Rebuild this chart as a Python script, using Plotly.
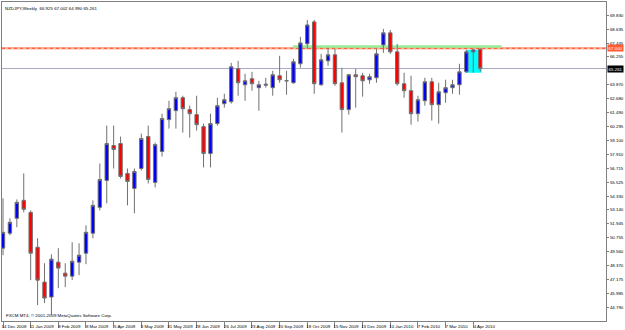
import plotly.graph_objects as go

# ---------------- data ----------------
week_index = list(range(70))

opens = [49.86, 51.14, 52.42, 53.96, 52.93, 49.94, 46.95, 45.67, 48.66, 47.72,
         47.46, 48.66, 49.43, 51.14, 53.36, 55.67, 58.66, 58.83, 56.27, 54.98,
         56.69, 59.43, 55.50, 58.15, 60.88, 61.65, 62.76, 61.74, 61.31, 60.28,
         57.97, 60.54, 62.25, 62.42, 65.24, 63.87, 64.39, 63.62, 63.83, 63.62,
         64.64, 64.20, 64.04, 65.67, 67.38, 69.26, 63.87, 65.92, 66.44, 64.04,
         61.74, 64.73, 64.64, 64.30, 64.47, 67.29, 68.32, 66.69, 63.96, 63.36,
         61.39, 62.50, 64.13, 62.16, 63.19, 63.62, 63.87, 64.98, 66.69, 66.925]
highs = [54.13, 52.42, 54.04, 56.27, 53.10, 50.71, 48.57, 49.34, 49.86, 48.57,
         50.37, 50.28, 51.82, 53.96, 57.12, 60.37, 60.37, 59.43, 56.69, 56.69,
         59.68, 60.37, 58.91, 61.39, 62.50, 63.27, 62.93, 62.08, 62.93, 60.54,
         61.39, 62.76, 63.10, 65.75, 65.92, 64.81, 64.98, 64.21, 64.47, 65.07,
         66.35, 65.07, 66.10, 67.98, 69.43, 69.43, 66.52, 67.04, 66.95, 65.33,
         64.81, 65.24, 64.90, 64.81, 66.95, 68.66, 68.57, 67.38, 64.90, 64.64,
         62.93, 64.47, 64.47, 64.04, 64.30, 64.30, 65.67, 66.86, 66.95, 67.002]
lows = [49.26, 50.97, 51.65, 52.93, 47.12, 44.98, 45.15, 44.13, 46.43, 46.52,
        47.12, 47.55, 48.49, 50.71, 53.10, 53.70, 56.69, 55.84, 53.53, 52.85,
        56.52, 55.41, 55.07, 57.72, 60.11, 60.11, 59.77, 59.34, 59.94, 56.78,
        56.78, 60.37, 61.91, 62.25, 62.93, 62.50, 63.36, 61.65, 63.62, 62.93,
        64.04, 63.02, 63.96, 65.33, 66.95, 63.10, 63.79, 65.50, 63.79, 59.77,
        61.31, 61.91, 62.85, 63.96, 64.04, 66.61, 66.52, 63.79, 62.76, 60.45,
        60.71, 62.08, 60.80, 60.54, 62.33, 63.10, 63.02, 64.90, 64.90, 64.990]
closes = [51.22, 52.08, 53.79, 53.19, 49.43, 47.12, 45.58, 48.92, 48.15, 47.46,
          48.74, 49.26, 51.22, 53.53, 55.75, 58.83, 58.32, 56.01, 55.58, 56.44,
          59.26, 55.75, 58.74, 60.97, 61.82, 62.76, 61.82, 61.39, 60.45, 57.97,
          60.54, 62.08, 62.59, 65.41, 64.04, 64.21, 63.96, 63.87, 63.91, 64.73,
          64.30, 64.22, 65.84, 67.46, 69.00, 63.96, 66.01, 66.44, 63.96, 61.74,
          64.73, 64.56, 64.21, 64.56, 66.52, 68.32, 66.69, 63.96, 63.36, 61.39,
          62.59, 64.13, 62.16, 63.27, 63.62, 63.87, 64.98, 66.69, 66.86, 65.261]

tick_weeks = [0, 4, 8, 12, 16, 20, 24, 28, 32, 36, 40, 44, 48, 52, 56, 60, 64, 68]
tick_labels = ["14 Dec 2008", "11 Jan 2009", "8 Feb 2009", "8 Mar 2009", "5 Apr 2009",
               "3 May 2009", "31 May 2009", "28 Jun 2009", "26 Jul 2009", "23 Aug 2009",
               "20 Sep 2009", "18 Oct 2009", "15 Nov 2009", "13 Dec 2009", "10 Jan 2010",
               "7 Feb 2010", "7 Mar 2010", "4 Apr 2010"]

price_labels = ["69.830", "68.635", "67.445", "66.255", "63.870", "62.680", "61.490",
                "60.295", "59.100", "57.910", "56.715", "55.525", "54.330", "53.140",
                "51.945", "50.755", "49.560", "48.370", "47.175", "45.985", "44.790", "43.600"]

title_text = "NZDJPY,Weekly  66.925 67.002 64.990 65.261"
footer_text = "FXCM MT4, \u00a9 2001-2009 MetaQuotes Software Corp."

current_price = 65.261
red_level = 67.00
red_level_text = "67.000"
green_level = 67.15
green_start, green_end = 41.9, 72.1
box_x0, box_x1 = 66.9, 69.2
box_y0, box_y1 = 64.90, 66.86

x_range = [-0.144, 87.19]
y_range = [43.616, 70.966]

FONT = "Liberation Sans"
FS = 4.4

# ---------------- figure ----------------
fig = go.Figure()

fig.add_trace(go.Candlestick(
    x=week_index, open=opens, high=highs, low=lows, close=closes,
    increasing=dict(line=dict(color="#707070", width=1), fillcolor="#0000FF"),
    decreasing=dict(line=dict(color="#707070", width=1), fillcolor="#FF0000"),
    whiskerwidth=0, showlegend=False, hoverinfo="skip",
))

# cyan rectangle behind the last candles
fig.add_shape(type="rect", xref="x", yref="y", x0=box_x0, x1=box_x1, y0=box_y0, y1=box_y1,
              fillcolor="#00FFFF", line=dict(width=0), layer="below")
# current price line
fig.add_shape(type="line", xref="paper", yref="y", x0=0, x1=1, y0=current_price, y1=current_price,
              line=dict(color="#A8AAC4", width=1), layer="below")
# red horizontal level
fig.add_shape(type="line", xref="paper", yref="y", x0=0, x1=1, y0=red_level, y1=red_level,
              line=dict(color="#F8B49C", width=2.5), layer="below")
fig.add_shape(type="line", xref="paper", yref="y", x0=0, x1=1, y0=red_level, y1=red_level,
              line=dict(color="#FF4A20", width=1, dash="dot"), layer="below")
# green level
fig.add_shape(type="line", xref="x", yref="y", x0=green_start, x1=green_end, y0=green_level, y1=green_level,
              line=dict(color="#98EE98", width=2.5), layer="below")

# title and footer
fig.add_annotation(text=title_text, xref="paper", yref="paper", x=0.002, y=0.995,
                   xanchor="left", yanchor="top", showarrow=False,
                   font=dict(family=FONT, size=FS, color="black"))
fig.add_annotation(text=footer_text, xref="paper", yref="paper", x=0.003, y=0.003,
                   xanchor="left", yanchor="bottom", showarrow=False,
                   font=dict(family=FONT, size=FS, color="black"))

# price labels on the right axis
fig.add_annotation(text=f"{current_price:.3f}", xref="paper", yref="y", x=1, y=current_price,
                   xanchor="left", yanchor="middle", xshift=1, showarrow=False,
                   bgcolor="#000000", borderpad=0.6,
                   font=dict(family=FONT, size=FS, color="white"))
fig.add_annotation(text=red_level_text, xref="paper", yref="y", x=1, y=red_level,
                   xanchor="left", yanchor="middle", xshift=1, showarrow=False,
                   bgcolor="#FF5A30", borderpad=0.6,
                   font=dict(family=FONT, size=FS, color="white"))

fig.update_layout(
    width=625, height=330,
    margin=dict(l=1, r=17, t=1, b=9),
    paper_bgcolor="white", plot_bgcolor="white",
    boxgap=0.3,
    font=dict(family=FONT, size=FS, color="black"),
    xaxis=dict(range=x_range, tickvals=tick_weeks, ticktext=tick_labels,
               ticks="outside", ticklen=6, tickcolor="#808080", tickwidth=1,
               ticklabelshift=11, ticklabelstandoff=-5,
               showgrid=False, zeroline=False, showline=True, mirror=True,
               linecolor="#808080", linewidth=1, rangeslider=dict(visible=False),
               tickfont=dict(family=FONT, size=FS, color="black"), fixedrange=True),
    yaxis=dict(range=y_range, side="right",
               tickvals=[float(s) for s in price_labels], ticktext=price_labels,
               ticks="outside", ticklen=2, tickcolor="#808080",
               showgrid=False, zeroline=False, showline=True, mirror=True,
               linecolor="#808080", linewidth=1,
               tickfont=dict(family=FONT, size=FS, color="black"), fixedrange=True),
)

fig.write_html("out.html", config={"displayModeBar": False})
